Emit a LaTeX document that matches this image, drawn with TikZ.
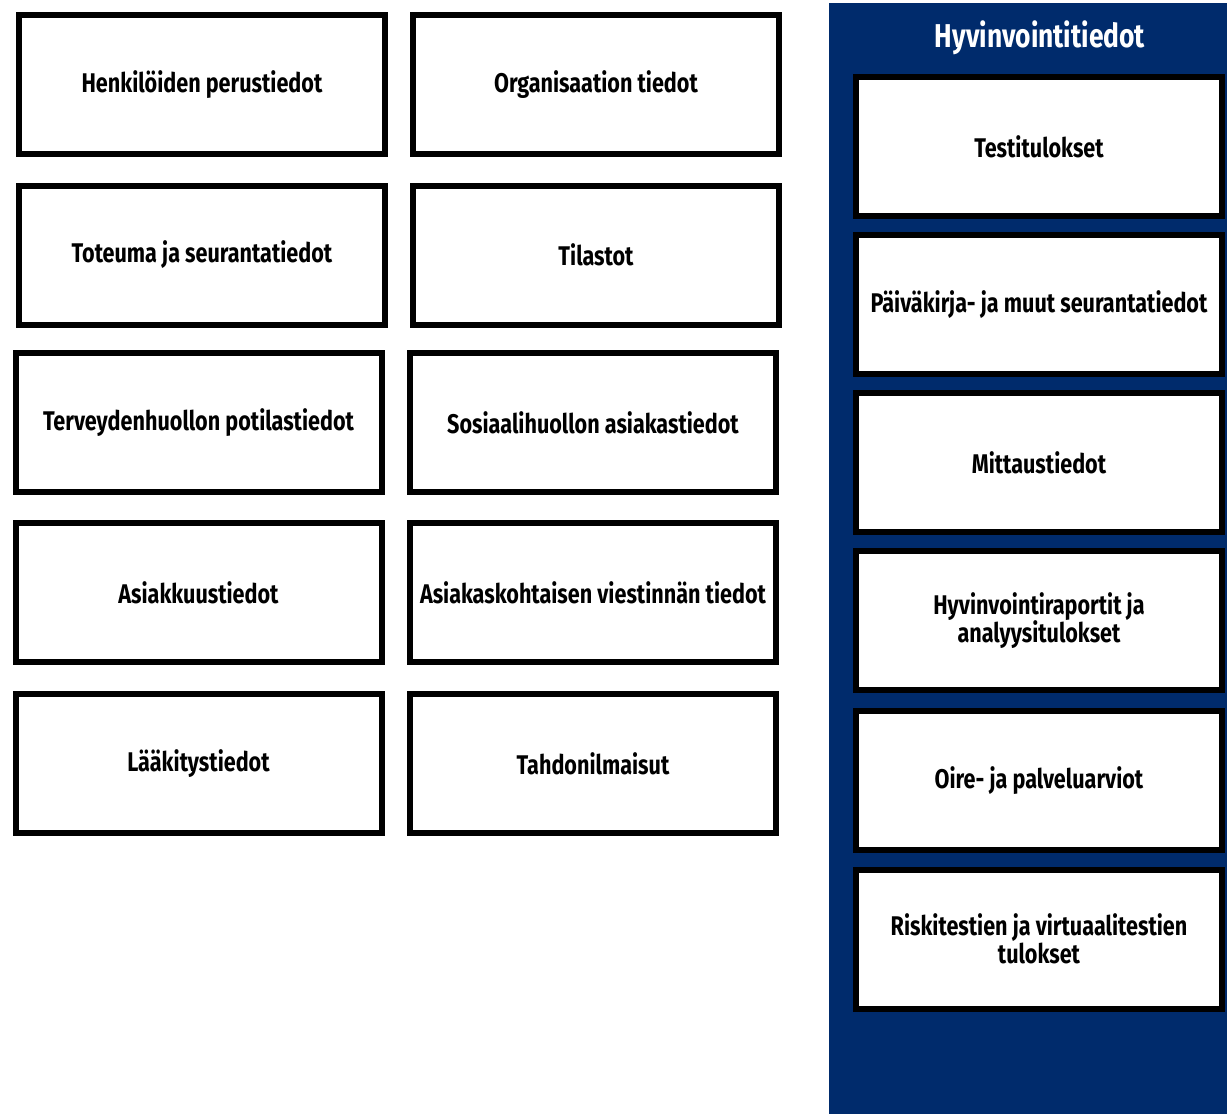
\documentclass[tikz,border=0pt]{standalone}
\usepackage{fontspec}
\setmainfont{Fira Sans}[FakeStretch=0.8]
\usetikzlibrary{positioning}
\definecolor{panelblue}{RGB}{0,43,108}

\begin{document}
\begin{tikzpicture}[
    x=1pt, y=-1pt,
    box/.style={draw=black, fill=white, line width=6pt, minimum width=366pt, minimum height=139pt, inner sep=2pt, font=\fontsize{27}{28}\selectfont\bfseries, text=black, align=center},
    title/.style={text=white, font=\fontsize{33}{36}\selectfont\bfseries}
]
\useasboundingbox (0,0) rectangle (1227,1114);

% ---------- Right panel ----------
\fill[panelblue] (829,3) rectangle (1227,1114);
\node[title] (hyvinvointi) at (1040,38) {Hyvinvointitiedot};

% ---------- Left grid ----------
\node[box] (henkilo)    at (202,84.5)   {Henkilöiden perustiedot};
\node[box] (organisaatio) at (596,84.5) {Organisaation tiedot};
\node[box] (toteuma)    at (202,255)    {Toteuma ja seurantatiedot};
\node[box] (tilastot)   at (596,255)    {Tilastot};
\node[box] (terveys)    at (198.5,422.5) {Terveydenhuollon potilastiedot};
\node[box] (sosiaali)   at (593,422.5)  {Sosiaalihuollon asiakastiedot};
\node[box] (asiakkuus)  at (198.5,592.5) {Asiakkuustiedot};
\node[box] (viestinta)  at (593,592.5)  {Asiakaskohtaisen viestinnän tiedot};
\node[box] (laakitys)   at (198.5,763.5) {Lääkitystiedot};
\node[box] (tahdon)     at (593,763.5)  {Tahdonilmaisut};

% ---------- Hyvinvointitiedot ----------
\node[box] (testi)      at (1039,146.5) {Testitulokset};
\node[box] (paivakirja) at (1039,304.5) {Päiväkirja- ja muut seurantatiedot};
\node[box] (mittaus)    at (1039,462.5) {Mittaustiedot};
\node[box] (raportit)   at (1039,620.5) {Hyvinvointiraportit ja\\analyysitulokset};
\node[box] (oire)       at (1039,780.5) {Oire- ja palveluarviot};
\node[box] (riski)      at (1039,939)   {Riskitestien ja virtuaalitestien\\tulokset};

\end{tikzpicture}
\end{document}
